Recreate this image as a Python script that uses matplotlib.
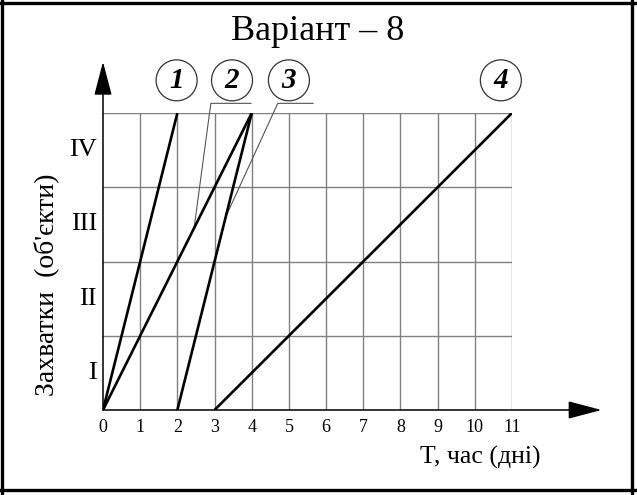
import matplotlib

matplotlib.use("Agg")
import matplotlib.pyplot as plt
from matplotlib.lines import Line2D
from matplotlib.patches import Ellipse

plt.rcParams["font.family"] = ["Liberation Serif", "DejaVu Serif"]

# time axis (days) and work sections
X_TICKS = [0, 1, 2, 3, 4, 5, 6, 7, 8, 9, 10, 11]
SECTIONS = ["I", "II", "III", "IV"]

# flow lines: start/end time and start/end section
FLOW_NAMES = ["1", "2", "3", "4"]
FLOW_T = [[0, 2], [0, 4], [2, 4], [3, 11]]
FLOW_S = [[0, 4], [0, 4], [0, 4], [0, 4]]

W, H = 637, 495


def fx(px):
    return px / W


def fy(py):
    return 1 - py / H


fig = plt.figure(figsize=(W / 100, H / 100), dpi=100)
ax = fig.add_axes([fx(103), fy(410), fx(512) - fx(103), fy(113) - fy(410)])
ax.set_xlim(0, 11)
ax.set_ylim(0, 4)
ax.axis("off")

# grid
for x in X_TICKS[1:]:
    ax.plot([x, x], [0, 4], color="#808080", lw=1.0, zorder=1)
for y in range(1, len(SECTIONS) + 1):
    ax.plot([0, 11], [y, y], color="#808080", lw=1.0, zorder=1)

# axes with arrows
arrow = dict(arrowstyle="-|>,head_length=2.1,head_width=0.55", lw=1.1,
             color="black", shrinkA=0, shrinkB=0)
ax.annotate("", xy=(0, 4.69), xytext=(0, 0), arrowprops=arrow, annotation_clip=False)
ax.annotate("", xy=(13.41, 0), xytext=(0, 0), arrowprops=arrow, annotation_clip=False)

# flow lines
for t, s in zip(FLOW_T, FLOW_S):
    ax.plot(t, s, color="black", lw=1.9, zorder=3, solid_capstyle="butt")

# leaders for lines 2 and 3
ax.plot([2.45, 2.90, 3.98], [2.45, 4.13, 4.13], color="#555555", lw=0.8, clip_on=False)
ax.plot([3.30, 4.70, 5.65], [2.60, 4.13, 4.13], color="#555555", lw=0.8, clip_on=False)

# circled numbers
label_x = [1.98, 3.47, 5.0, 10.7]
for name, cx in zip(FLOW_NAMES, label_x):
    ax.add_patch(Ellipse((cx, 4.44), 41 / 37.2, 41 / 74.25, fill=False,
                         edgecolor="#333333", lw=0.9, clip_on=False))
    ax.text(cx, 4.44, name, ha="center", va="center", fontsize=21,
            fontweight="bold", fontstyle="italic")

# tick labels
for x in X_TICKS:
    ax.text(x, -0.236, str(x), ha="center", va="center", fontsize=13)
for i, s in enumerate(SECTIONS):
    ax.text(-0.16, i + 0.5, s, ha="right", va="center", fontsize=19)

fig.text(fx(480), fy(457), "T, час (дні)", ha="center", va="center", fontsize=18.5)
fig.text(fx(46), fy(285), "Захватки  (об'єкти)", ha="center", va="center",
         rotation=90, fontsize=20)
fig.text(fx(318), fy(32), "Варіант – 8", ha="center", va="center", fontsize=26)

# frame
for xs, ys in [([2, 2], [0, 495]), ([632, 632], [0, 495]),
               ([0, 637], [3, 3]), ([0, 637], [490, 490])]:
    fig.add_artist(Line2D([fx(v) for v in xs], [fy(v) for v in ys],
                          color="black", lw=2.4, transform=fig.transFigure))

fig.savefig("out.png", dpi=100)
